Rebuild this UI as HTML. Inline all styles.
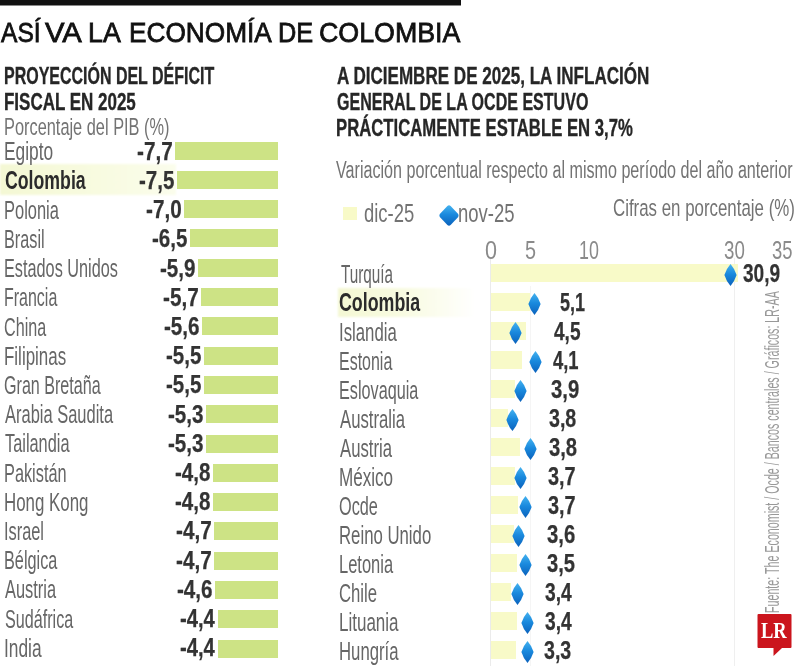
<!DOCTYPE html><html><head><meta charset="utf-8"><style>
html,body{margin:0;padding:0;background:#fff;width:800px;height:666px;overflow:hidden;position:relative}
.t{position:absolute;white-space:nowrap;line-height:1;font-family:"Liberation Sans",sans-serif;transform-origin:0 0}
.r{position:absolute}
</style></head><body>
<svg width="0" height="0" style="position:absolute"><defs><linearGradient id="g" x1="0" y1="0" x2="0" y2="1"><stop offset="0" stop-color="#45b2ef"/><stop offset="0.45" stop-color="#1a8ade"/><stop offset="1" stop-color="#0b62bc"/></linearGradient></defs></svg>
<div class="r" style="left:0.00px;top:0.00px;width:461.00px;height:5.00px;background:#111;"></div>
<div class="r" style="left:0.00px;top:5.00px;width:461.00px;height:1.00px;background:#888;"></div>
<div class="t" style="left:0.95px;top:18.28px;font-size:28.49px;font-weight:400;color:#111;transform:scaleX(0.8623);-webkit-text-stroke:0.8px #111;">ASÍ</div>
<div class="t" style="left:44.88px;top:18.28px;font-size:28.49px;font-weight:400;color:#111;transform:scaleX(1.0273);-webkit-text-stroke:0.8px #111;">VA</div>
<div class="t" style="left:87.80px;top:18.28px;font-size:28.49px;font-weight:400;color:#111;transform:scaleX(0.9399);-webkit-text-stroke:0.8px #111;">LA</div>
<div class="t" style="left:128.85px;top:18.28px;font-size:28.49px;font-weight:400;color:#111;transform:scaleX(0.9212);-webkit-text-stroke:0.8px #111;">ECONOMÍA</div>
<div class="t" style="left:277.92px;top:18.28px;font-size:28.49px;font-weight:400;color:#111;transform:scaleX(0.8886);-webkit-text-stroke:0.8px #111;">DE</div>
<div class="t" style="left:318.63px;top:18.28px;font-size:28.49px;font-weight:400;color:#111;transform:scaleX(0.9403);-webkit-text-stroke:0.8px #111;">COLOMBIA</div>
<div class="t" style="left:4.43px;top:64.17px;font-size:24.13px;font-weight:700;color:#262626;transform:scaleX(0.6626);-webkit-text-stroke:0.35px #262626;">PROYECCIÓN DEL DÉFICIT</div>
<div class="t" style="left:4.36px;top:89.97px;font-size:24.13px;font-weight:700;color:#262626;transform:scaleX(0.7038);-webkit-text-stroke:0.35px #262626;">FISCAL EN 2025</div>
<div class="t" style="left:4.16px;top:115.28px;font-size:24.71px;font-weight:400;color:#737373;transform:scaleX(0.6623);">Porcentaje del PIB (%)</div>
<div class="r" style="left:0.00px;top:163.80px;width:176.00px;height:30.80px;background:linear-gradient(90deg,#f4f8d4 0%,#f8fbe0 55%,#fbfdec 100%);filter:blur(0.8px);"></div>
<div class="r" style="left:174.64px;top:141.50px;width:103.36px;height:18.00px;background:#cde385;"></div>
<div class="t" style="left:136.64px;top:138.79px;font-size:25.87px;font-weight:700;color:#333;transform:scaleX(0.8013);-webkit-text-stroke:0.25px #333;">-7,7</div>
<div class="t" style="left:3.58px;top:138.30px;font-size:26.45px;font-weight:400;color:#666;transform:scaleX(0.6554);">Egipto</div>
<div class="r" style="left:177.28px;top:170.80px;width:100.72px;height:18.00px;background:#cde385;"></div>
<div class="t" style="left:139.27px;top:167.99px;font-size:25.87px;font-weight:700;color:#333;transform:scaleX(0.7936);-webkit-text-stroke:0.25px #333;">-7,5</div>
<div class="t" style="left:4.77px;top:167.99px;font-size:25.87px;font-weight:700;color:#2b2b2b;transform:scaleX(0.6846);">Colombia</div>
<div class="r" style="left:183.85px;top:200.10px;width:94.15px;height:18.00px;background:#cde385;"></div>
<div class="t" style="left:145.84px;top:197.19px;font-size:25.87px;font-weight:700;color:#333;transform:scaleX(0.7998);-webkit-text-stroke:0.25px #333;">-7,0</div>
<div class="t" style="left:4.35px;top:196.70px;font-size:26.45px;font-weight:400;color:#666;transform:scaleX(0.6227);">Polonia</div>
<div class="r" style="left:190.43px;top:229.40px;width:87.57px;height:18.00px;background:#cde385;"></div>
<div class="t" style="left:152.42px;top:226.39px;font-size:25.87px;font-weight:700;color:#333;transform:scaleX(0.7936);-webkit-text-stroke:0.25px #333;">-6,5</div>
<div class="t" style="left:4.37px;top:225.90px;font-size:26.45px;font-weight:400;color:#666;transform:scaleX(0.6142);">Brasil</div>
<div class="r" style="left:198.31px;top:258.70px;width:79.69px;height:18.00px;background:#cde385;"></div>
<div class="t" style="left:160.31px;top:255.59px;font-size:25.87px;font-weight:700;color:#333;transform:scaleX(0.7979);-webkit-text-stroke:0.25px #333;">-5,9</div>
<div class="t" style="left:3.57px;top:255.10px;font-size:26.45px;font-weight:400;color:#666;transform:scaleX(0.6154);">Estados Unidos</div>
<div class="r" style="left:200.94px;top:288.00px;width:77.06px;height:18.00px;background:#cde385;"></div>
<div class="t" style="left:162.94px;top:284.79px;font-size:25.87px;font-weight:700;color:#333;transform:scaleX(0.8013);-webkit-text-stroke:0.25px #333;">-5,7</div>
<div class="t" style="left:3.59px;top:284.30px;font-size:26.45px;font-weight:400;color:#666;transform:scaleX(0.6045);">Francia</div>
<div class="r" style="left:202.26px;top:317.30px;width:75.74px;height:18.00px;background:#cde385;"></div>
<div class="t" style="left:164.26px;top:313.99px;font-size:25.87px;font-weight:700;color:#333;transform:scaleX(0.7974);-webkit-text-stroke:0.25px #333;">-5,6</div>
<div class="t" style="left:4.08px;top:313.50px;font-size:26.45px;font-weight:400;color:#666;transform:scaleX(0.6108);">China</div>
<div class="r" style="left:203.57px;top:346.60px;width:74.43px;height:18.00px;background:#cde385;"></div>
<div class="t" style="left:165.57px;top:343.19px;font-size:25.87px;font-weight:700;color:#333;transform:scaleX(0.7936);-webkit-text-stroke:0.25px #333;">-5,5</div>
<div class="t" style="left:4.31px;top:342.70px;font-size:26.45px;font-weight:400;color:#666;transform:scaleX(0.6410);">Filipinas</div>
<div class="r" style="left:203.57px;top:375.90px;width:74.43px;height:18.00px;background:#cde385;"></div>
<div class="t" style="left:165.57px;top:372.39px;font-size:25.87px;font-weight:700;color:#333;transform:scaleX(0.7936);-webkit-text-stroke:0.25px #333;">-5,5</div>
<div class="t" style="left:4.09px;top:371.90px;font-size:26.45px;font-weight:400;color:#666;transform:scaleX(0.6090);">Gran Bretaña</div>
<div class="r" style="left:206.21px;top:405.20px;width:71.79px;height:18.00px;background:#cde385;"></div>
<div class="t" style="left:168.20px;top:401.59px;font-size:25.87px;font-weight:700;color:#333;transform:scaleX(0.7974);-webkit-text-stroke:0.25px #333;">-5,3</div>
<div class="t" style="left:4.87px;top:401.10px;font-size:26.45px;font-weight:400;color:#666;transform:scaleX(0.6231);">Arabia Saudita</div>
<div class="r" style="left:206.21px;top:434.50px;width:71.79px;height:18.00px;background:#cde385;"></div>
<div class="t" style="left:168.20px;top:430.79px;font-size:25.87px;font-weight:700;color:#333;transform:scaleX(0.7974);-webkit-text-stroke:0.25px #333;">-5,3</div>
<div class="t" style="left:5.34px;top:430.30px;font-size:26.45px;font-weight:400;color:#666;transform:scaleX(0.6183);">Tailandia</div>
<div class="r" style="left:212.78px;top:463.80px;width:65.22px;height:18.00px;background:#cde385;"></div>
<div class="t" style="left:174.78px;top:459.99px;font-size:25.87px;font-weight:700;color:#333;transform:scaleX(0.7950);-webkit-text-stroke:0.25px #333;">-4,8</div>
<div class="t" style="left:4.36px;top:459.50px;font-size:26.45px;font-weight:400;color:#666;transform:scaleX(0.6170);">Pakistán</div>
<div class="r" style="left:212.78px;top:493.10px;width:65.22px;height:18.00px;background:#cde385;"></div>
<div class="t" style="left:174.78px;top:489.19px;font-size:25.87px;font-weight:700;color:#333;transform:scaleX(0.7950);-webkit-text-stroke:0.25px #333;">-4,8</div>
<div class="t" style="left:4.31px;top:488.70px;font-size:26.45px;font-weight:400;color:#666;transform:scaleX(0.6388);">Hong Kong</div>
<div class="r" style="left:214.09px;top:522.40px;width:63.91px;height:18.00px;background:#cde385;"></div>
<div class="t" style="left:176.09px;top:518.39px;font-size:25.87px;font-weight:700;color:#333;transform:scaleX(0.8013);-webkit-text-stroke:0.25px #333;">-4,7</div>
<div class="t" style="left:4.19px;top:517.90px;font-size:26.45px;font-weight:400;color:#666;transform:scaleX(0.6185);">Israel</div>
<div class="r" style="left:214.09px;top:551.70px;width:63.91px;height:18.00px;background:#cde385;"></div>
<div class="t" style="left:176.09px;top:547.59px;font-size:25.87px;font-weight:700;color:#333;transform:scaleX(0.8013);-webkit-text-stroke:0.25px #333;">-4,7</div>
<div class="t" style="left:4.37px;top:547.10px;font-size:26.45px;font-weight:400;color:#666;transform:scaleX(0.6147);">Bélgica</div>
<div class="r" style="left:215.41px;top:581.00px;width:62.59px;height:18.00px;background:#cde385;"></div>
<div class="t" style="left:177.41px;top:576.79px;font-size:25.87px;font-weight:700;color:#333;transform:scaleX(0.7974);-webkit-text-stroke:0.25px #333;">-4,6</div>
<div class="t" style="left:5.27px;top:576.30px;font-size:26.45px;font-weight:400;color:#666;transform:scaleX(0.6199);">Austria</div>
<div class="r" style="left:218.04px;top:610.30px;width:59.96px;height:18.00px;background:#cde385;"></div>
<div class="t" style="left:180.05px;top:605.99px;font-size:25.87px;font-weight:700;color:#333;transform:scaleX(0.7827);-webkit-text-stroke:0.25px #333;">-4,4</div>
<div class="t" style="left:4.57px;top:605.50px;font-size:26.45px;font-weight:400;color:#666;transform:scaleX(0.6106);">Sudáfrica</div>
<div class="r" style="left:218.04px;top:639.60px;width:59.96px;height:18.00px;background:#cde385;"></div>
<div class="t" style="left:180.05px;top:635.19px;font-size:25.87px;font-weight:700;color:#333;transform:scaleX(0.7827);-webkit-text-stroke:0.25px #333;">-4,4</div>
<div class="t" style="left:3.70px;top:634.70px;font-size:26.45px;font-weight:400;color:#666;transform:scaleX(0.6555);">India</div>
<div class="t" style="left:337.07px;top:63.99px;font-size:23.98px;font-weight:700;color:#262626;transform:scaleX(0.7115);-webkit-text-stroke:0.35px #262626;">A DICIEMBRE DE 2025, LA INFLACIÓN</div>
<div class="t" style="left:336.84px;top:90.29px;font-size:23.98px;font-weight:700;color:#262626;transform:scaleX(0.6693);-webkit-text-stroke:0.35px #262626;">GENERAL DE LA OCDE ESTUVO</div>
<div class="t" style="left:336.38px;top:116.49px;font-size:23.98px;font-weight:700;color:#262626;transform:scaleX(0.6974);-webkit-text-stroke:0.35px #262626;">PRÁCTICAMENTE ESTABLE EN 3,7%</div>
<div class="t" style="left:335.94px;top:157.89px;font-size:23.98px;font-weight:400;color:#737373;transform:scaleX(0.6723);">Variación porcentual respecto al mismo período del año anterior</div>
<div class="r" style="left:342.50px;top:207.00px;width:14.50px;height:12.50px;background:#f8fac8;"></div>
<div class="t" style="left:363.93px;top:201.46px;font-size:25.44px;font-weight:400;color:#737373;transform:scaleX(0.7252);">dic-25</div>
<svg class="r" style="left:439px;top:205px" width="20" height="21" viewBox="0 0 20 21"><path d="M10,0.3 Q10.8,0.3 11.6,1.1 L19.2,9.1 Q20,10.5 19.2,11.9 L11.6,19.9 Q10.8,20.7 10,20.7 Q9.2,20.7 8.4,19.9 L0.8,11.9 Q0,10.5 0.8,9.1 L8.4,1.1 Q9.2,0.3 10,0.3Z" fill="url(#g)"/></svg>
<div class="t" style="left:458.48px;top:201.46px;font-size:25.44px;font-weight:400;color:#737373;transform:scaleX(0.7279);">nov-25</div>
<div class="t" style="left:613.14px;top:195.78px;font-size:24.71px;font-weight:400;color:#737373;transform:scaleX(0.6828);">Cifras en porcentaje (%)</div>
<div class="t" style="left:485.16px;top:237.66px;font-size:25.44px;font-weight:400;color:#8a8a8a;transform:scaleX(0.8471);">0</div>
<div class="t" style="left:524.51px;top:237.66px;font-size:25.44px;font-weight:400;color:#8a8a8a;transform:scaleX(0.7796);">5</div>
<div class="t" style="left:579.34px;top:237.66px;font-size:25.44px;font-weight:400;color:#8a8a8a;transform:scaleX(0.7019);">10</div>
<div class="t" style="left:723.69px;top:237.66px;font-size:25.44px;font-weight:400;color:#8a8a8a;transform:scaleX(0.7350);">30</div>
<div class="t" style="left:772.30px;top:237.66px;font-size:25.44px;font-weight:400;color:#8a8a8a;transform:scaleX(0.7238);">35</div>
<div class="r" style="left:489.50px;top:259.00px;width:1.00px;height:407.00px;background:#ebebeb;"></div>
<div class="r" style="left:529.50px;top:286.00px;width:1.00px;height:380.00px;background:#f5f5f5;"></div>
<div class="r" style="left:734.00px;top:258.00px;width:1.00px;height:408.00px;background:#efefef;"></div>
<div class="r" style="left:338.00px;top:288.00px;width:137.00px;height:29.00px;background:linear-gradient(90deg,#f4f8d4 0%,#f8fbe0 45%,#fcfdf0 75%,#ffffff 100%);filter:blur(0.8px);"></div>
<div class="r" style="left:490.50px;top:264.40px;width:247.00px;height:17.50px;background:#f8fac8;"></div>
<svg class="r" style="left:723.90px;top:264.40px" width="13" height="22" viewBox="0 0 13 22"><path d="M6.5,0 Q10.6,4.6 12.6,11 Q10.6,17.4 6.5,22 Q2.4,17.4 0.4,11 Q2.4,4.6 6.5,0Z" fill="url(#g)"/></svg>
<div class="t" style="left:742.56px;top:261.36px;font-size:25.44px;font-weight:700;color:#333;transform:scaleX(0.7504);-webkit-text-stroke:0.25px #333;">30,9</div>
<div class="t" style="left:340.66px;top:260.50px;font-size:26.45px;font-weight:400;color:#666;transform:scaleX(0.5781);">Turquía</div>
<div class="r" style="left:490.50px;top:293.40px;width:39.00px;height:17.50px;background:#f8fac8;"></div>
<svg class="r" style="left:528.00px;top:293.40px" width="13" height="22" viewBox="0 0 13 22"><path d="M6.5,0 Q10.6,4.6 12.6,11 Q10.6,17.4 6.5,22 Q2.4,17.4 0.4,11 Q2.4,4.6 6.5,0Z" fill="url(#g)"/></svg>
<div class="t" style="left:560.44px;top:290.36px;font-size:25.44px;font-weight:700;color:#333;transform:scaleX(0.7089);-webkit-text-stroke:0.25px #333;">5,1</div>
<div class="t" style="left:338.67px;top:289.99px;font-size:25.87px;font-weight:700;color:#2b2b2b;transform:scaleX(0.6889);">Colombia</div>
<div class="r" style="left:490.50px;top:322.40px;width:35.30px;height:17.50px;background:#f8fac8;"></div>
<svg class="r" style="left:509.20px;top:322.40px" width="13" height="22" viewBox="0 0 13 22"><path d="M6.5,0 Q10.6,4.6 12.6,11 Q10.6,17.4 6.5,22 Q2.4,17.4 0.4,11 Q2.4,4.6 6.5,0Z" fill="url(#g)"/></svg>
<div class="t" style="left:554.01px;top:319.36px;font-size:25.44px;font-weight:700;color:#333;transform:scaleX(0.7501);-webkit-text-stroke:0.25px #333;">4,5</div>
<div class="t" style="left:338.76px;top:318.50px;font-size:26.45px;font-weight:400;color:#666;transform:scaleX(0.6343);">Islandia</div>
<div class="r" style="left:490.50px;top:351.40px;width:31.50px;height:17.50px;background:#f8fac8;"></div>
<svg class="r" style="left:528.80px;top:351.40px" width="13" height="22" viewBox="0 0 13 22"><path d="M6.5,0 Q10.6,4.6 12.6,11 Q10.6,17.4 6.5,22 Q2.4,17.4 0.4,11 Q2.4,4.6 6.5,0Z" fill="url(#g)"/></svg>
<div class="t" style="left:552.52px;top:348.36px;font-size:25.44px;font-weight:700;color:#333;transform:scaleX(0.7238);-webkit-text-stroke:0.25px #333;">4,1</div>
<div class="t" style="left:339.29px;top:347.50px;font-size:26.45px;font-weight:400;color:#666;transform:scaleX(0.6043);">Estonia</div>
<div class="r" style="left:490.50px;top:380.40px;width:24.80px;height:17.50px;background:#f8fac8;"></div>
<svg class="r" style="left:514.00px;top:380.40px" width="13" height="22" viewBox="0 0 13 22"><path d="M6.5,0 Q10.6,4.6 12.6,11 Q10.6,17.4 6.5,22 Q2.4,17.4 0.4,11 Q2.4,4.6 6.5,0Z" fill="url(#g)"/></svg>
<div class="t" style="left:550.83px;top:377.36px;font-size:25.44px;font-weight:700;color:#333;transform:scaleX(0.7981);-webkit-text-stroke:0.25px #333;">3,9</div>
<div class="t" style="left:339.27px;top:376.50px;font-size:26.45px;font-weight:400;color:#666;transform:scaleX(0.6130);">Eslovaquia</div>
<div class="r" style="left:490.50px;top:409.40px;width:17.30px;height:17.50px;background:#f8fac8;"></div>
<svg class="r" style="left:506.20px;top:409.40px" width="13" height="22" viewBox="0 0 13 22"><path d="M6.5,0 Q10.6,4.6 12.6,11 Q10.6,17.4 6.5,22 Q2.4,17.4 0.4,11 Q2.4,4.6 6.5,0Z" fill="url(#g)"/></svg>
<div class="t" style="left:549.35px;top:406.36px;font-size:25.44px;font-weight:700;color:#333;transform:scaleX(0.7710);-webkit-text-stroke:0.25px #333;">3,8</div>
<div class="t" style="left:339.77px;top:405.50px;font-size:26.45px;font-weight:400;color:#666;transform:scaleX(0.6318);">Australia</div>
<div class="r" style="left:490.50px;top:438.40px;width:29.30px;height:17.50px;background:#f8fac8;"></div>
<svg class="r" style="left:523.50px;top:438.40px" width="13" height="22" viewBox="0 0 13 22"><path d="M6.5,0 Q10.6,4.6 12.6,11 Q10.6,17.4 6.5,22 Q2.4,17.4 0.4,11 Q2.4,4.6 6.5,0Z" fill="url(#g)"/></svg>
<div class="t" style="left:548.54px;top:435.36px;font-size:25.44px;font-weight:700;color:#333;transform:scaleX(0.7945);-webkit-text-stroke:0.25px #333;">3,8</div>
<div class="t" style="left:339.77px;top:434.50px;font-size:26.45px;font-weight:400;color:#666;transform:scaleX(0.6321);">Austria</div>
<div class="r" style="left:490.50px;top:467.40px;width:24.80px;height:17.50px;background:#f8fac8;"></div>
<svg class="r" style="left:514.00px;top:467.40px" width="13" height="22" viewBox="0 0 13 22"><path d="M6.5,0 Q10.6,4.6 12.6,11 Q10.6,17.4 6.5,22 Q2.4,17.4 0.4,11 Q2.4,4.6 6.5,0Z" fill="url(#g)"/></svg>
<div class="t" style="left:547.84px;top:464.36px;font-size:25.44px;font-weight:700;color:#333;transform:scaleX(0.7815);-webkit-text-stroke:0.25px #333;">3,7</div>
<div class="t" style="left:339.20px;top:463.50px;font-size:26.45px;font-weight:400;color:#666;transform:scaleX(0.6460);">México</div>
<div class="r" style="left:490.50px;top:496.40px;width:27.80px;height:17.50px;background:#f8fac8;"></div>
<svg class="r" style="left:519.30px;top:496.40px" width="13" height="22" viewBox="0 0 13 22"><path d="M6.5,0 Q10.6,4.6 12.6,11 Q10.6,17.4 6.5,22 Q2.4,17.4 0.4,11 Q2.4,4.6 6.5,0Z" fill="url(#g)"/></svg>
<div class="t" style="left:547.84px;top:493.36px;font-size:25.44px;font-weight:700;color:#333;transform:scaleX(0.7815);-webkit-text-stroke:0.25px #333;">3,7</div>
<div class="t" style="left:339.04px;top:492.50px;font-size:26.45px;font-weight:400;color:#666;transform:scaleX(0.6150);">Ocde</div>
<div class="r" style="left:490.50px;top:525.40px;width:23.30px;height:17.50px;background:#f8fac8;"></div>
<svg class="r" style="left:512.20px;top:525.40px" width="13" height="22" viewBox="0 0 13 22"><path d="M6.5,0 Q10.6,4.6 12.6,11 Q10.6,17.4 6.5,22 Q2.4,17.4 0.4,11 Q2.4,4.6 6.5,0Z" fill="url(#g)"/></svg>
<div class="t" style="left:547.13px;top:522.36px;font-size:25.44px;font-weight:700;color:#333;transform:scaleX(0.7975);-webkit-text-stroke:0.25px #333;">3,6</div>
<div class="t" style="left:339.22px;top:521.50px;font-size:26.45px;font-weight:400;color:#666;transform:scaleX(0.6339);">Reino Unido</div>
<div class="r" style="left:490.50px;top:554.40px;width:26.10px;height:17.50px;background:#f8fac8;"></div>
<svg class="r" style="left:519.10px;top:554.40px" width="13" height="22" viewBox="0 0 13 22"><path d="M6.5,0 Q10.6,4.6 12.6,11 Q10.6,17.4 6.5,22 Q2.4,17.4 0.4,11 Q2.4,4.6 6.5,0Z" fill="url(#g)"/></svg>
<div class="t" style="left:546.54px;top:551.36px;font-size:25.44px;font-weight:700;color:#333;transform:scaleX(0.7927);-webkit-text-stroke:0.25px #333;">3,5</div>
<div class="t" style="left:339.25px;top:550.50px;font-size:26.45px;font-weight:400;color:#666;transform:scaleX(0.6239);">Letonia</div>
<div class="r" style="left:490.50px;top:583.40px;width:20.90px;height:17.50px;background:#f8fac8;"></div>
<svg class="r" style="left:510.50px;top:583.40px" width="13" height="22" viewBox="0 0 13 22"><path d="M6.5,0 Q10.6,4.6 12.6,11 Q10.6,17.4 6.5,22 Q2.4,17.4 0.4,11 Q2.4,4.6 6.5,0Z" fill="url(#g)"/></svg>
<div class="t" style="left:544.86px;top:580.36px;font-size:25.44px;font-weight:700;color:#333;transform:scaleX(0.7563);-webkit-text-stroke:0.25px #333;">3,4</div>
<div class="t" style="left:338.95px;top:579.50px;font-size:26.45px;font-weight:400;color:#666;transform:scaleX(0.6318);">Chile</div>
<div class="r" style="left:490.50px;top:612.40px;width:26.00px;height:17.50px;background:#f8fac8;"></div>
<svg class="r" style="left:520.80px;top:612.40px" width="13" height="22" viewBox="0 0 13 22"><path d="M6.5,0 Q10.6,4.6 12.6,11 Q10.6,17.4 6.5,22 Q2.4,17.4 0.4,11 Q2.4,4.6 6.5,0Z" fill="url(#g)"/></svg>
<div class="t" style="left:544.86px;top:609.36px;font-size:25.44px;font-weight:700;color:#333;transform:scaleX(0.7563);-webkit-text-stroke:0.25px #333;">3,4</div>
<div class="t" style="left:338.90px;top:608.50px;font-size:26.45px;font-weight:400;color:#666;transform:scaleX(0.6431);">Lituania</div>
<div class="r" style="left:490.50px;top:641.40px;width:25.20px;height:17.50px;background:#f8fac8;"></div>
<svg class="r" style="left:520.50px;top:641.40px" width="13" height="22" viewBox="0 0 13 22"><path d="M6.5,0 Q10.6,4.6 12.6,11 Q10.6,17.4 6.5,22 Q2.4,17.4 0.4,11 Q2.4,4.6 6.5,0Z" fill="url(#g)"/></svg>
<div class="t" style="left:544.05px;top:638.36px;font-size:25.44px;font-weight:700;color:#333;transform:scaleX(0.7709);-webkit-text-stroke:0.25px #333;">3,3</div>
<div class="t" style="left:338.93px;top:637.50px;font-size:26.45px;font-weight:400;color:#666;transform:scaleX(0.6331);">Hungría</div>
<div class="r" style="left:779.4px;top:612px;width:0;height:0;transform:rotate(-90deg);transform-origin:0 0"><div class="t" style="left:-0.88px;top:-16.37px;font-size:19.33px;color:#999;transform:scaleX(0.5531)">Fuente: The Economist / Ocde / Bancos centrales / Gráficos: LR-AA</div></div>
<svg class="r" style="left:757px;top:614px" width="35" height="43" viewBox="0 0 35 43"><path d="M1.5,0 H33.5 Q34.5,0 34.5,1 V33 Q34.5,34 33.5,34 H25 L16.5,42 V34 H1.5 Q0.5,34 0.5,33 V1 Q0.5,0 1.5,0 Z" fill="#cb151d"/></svg>
<div class="t" style="left:760.68px;top:619.26px;font-size:23.67px;font-weight:700;color:#fff;transform:scaleX(0.7831);font-family:'Liberation Serif',serif;">LR</div>
</body></html>
